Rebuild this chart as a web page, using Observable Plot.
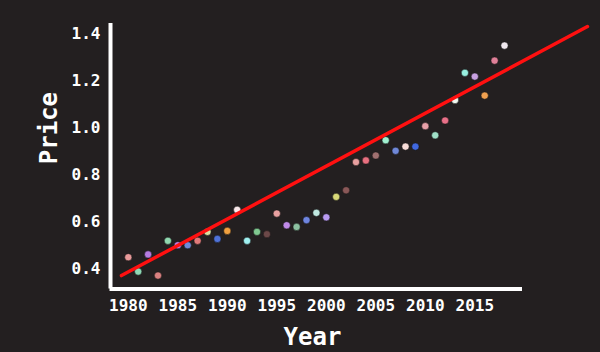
<!DOCTYPE html>
<html>
<head>
<meta charset="utf-8">
<script src="https://cdn.jsdelivr.net/npm/d3@7"></script>
<script src="https://cdn.jsdelivr.net/npm/@observablehq/plot@0.6"></script>
<style>
  html, body { margin: 0; padding: 0; background: #231f20; }
  #chart svg { display: block; }
</style>
</head>
<body>
<div id="chart"></div>
<script>
// Data
const years = [1980,1981,1982,1983,1984,1985,1986,1987,1988,1989,
               1990,1991,1992,1993,1994,1995,1996,1997,1998,1999,
               2000,2001,2002,2003,2004,2005,2006,2007,2008,2009,
               2010,2011,2012,2013,2014,2015,2016,2017,2018];
const prices = [0.448,0.387,0.460,0.370,0.518,0.499,0.499,0.518,0.556,0.526,
                0.560,0.650,0.518,0.556,0.546,0.634,0.584,0.577,0.606,0.637,
                0.618,0.705,0.733,0.853,0.860,0.881,0.946,0.901,0.919,0.919,
                1.006,0.967,1.030,1.117,1.233,1.217,1.136,1.285,1.349];
const dotColors = ["#e89a9a","#8fd9b6","#b57be0","#d98080","#90d8b0","#c77be0","#6f8ad8","#e07a7a","#d7e0a0","#4f72d8",
                   "#f0a040","#f8e8ea","#a0f0f0","#80c890","#6b4848","#e8a0a0","#c08ae8","#8cc0a0","#6f85e0","#c0e8e0",
                   "#b89af0","#d8d878","#8a5858","#e8a0a0","#e87080","#a07070","#a0f0d0","#7088d8","#f8dcd8","#4068e0",
                   "#e8a0a8","#a0e0c8","#e87088","#f0f8f0","#98f0e0","#c8a0e0","#f0a050","#e08098","#f0e8ee"];
// fitted trend line endpoints
const fitYears = [1979.31, 2026.38];
const fitPrices = [0.370, 1.430];
// tick labels
const xTicks = [1980,1985,1990,1995,2000,2005,2010,2015];
const yTicks = [0.4,0.6,0.8,1.0,1.2,1.4];
const xTitle = "Year";
const yTitle = "Price";

const points = years.map((y, i) => ({year: y, price: prices[i], color: dotColors[i]}));
const fit = fitYears.map((y, i) => ({year: y, price: fitPrices[i]}));

const xDomain = [1978.202, 2019.818];
const yDomain = [0.3128, 1.443];
const font = "'DejaVu Sans Mono', monospace";

const chart = Plot.plot({
  width: 600,
  height: 352,
  marginLeft: 110,
  marginRight: 78,
  marginTop: 23,
  marginBottom: 63.5,
  style: {background: "#231f20", color: "#ffffff", fontFamily: font, overflow: "visible"},
  x: {domain: xDomain},
  y: {domain: yDomain},
  color: {type: "identity"},
  marks: [
    Plot.axisX({ticks: xTicks, tickFormat: d => String(d), tickSize: 0, tickPadding: 11,
      fontSize: 16, fontWeight: "bold", fill: "#ffffff", label: null}),
    Plot.axisY({ticks: yTicks, tickFormat: d => d.toFixed(1), tickSize: 0, tickPadding: 10,
      fontSize: 16, fontWeight: "bold", fill: "#ffffff", label: null}),
    Plot.dot(points, {x: "year", y: "price", fill: "color", r: 3.6, stroke: "#111111", strokeWidth: 0.8, strokeOpacity: 0.6}),
    Plot.line(fit, {x: "year", y: "price", stroke: "#ff1010", strokeWidth: 3.5}),
    Plot.ruleX([xDomain[0]], {stroke: "#ffffff", strokeWidth: 4, y1: yDomain[0], y2: yDomain[1]}),
    Plot.ruleY([yDomain[0]], {stroke: "#ffffff", strokeWidth: 4, x1: xDomain[0] - 0.05, x2: xDomain[1]}),
    Plot.text([xTitle], {frameAnchor: "bottom", dx: -4, dy: 48.5, lineAnchor: "middle",
      fill: "#ffffff", fontSize: 24, fontWeight: "bold", fontFamily: font}),
    Plot.text([yTitle], {frameAnchor: "left", dx: -61, dy: 8, rotate: -90, lineAnchor: "middle",
      fill: "#ffffff", fontSize: 24, fontWeight: "bold", fontFamily: font})
  ]
});
document.getElementById("chart").appendChild(chart);
</script>
</body>
</html>
